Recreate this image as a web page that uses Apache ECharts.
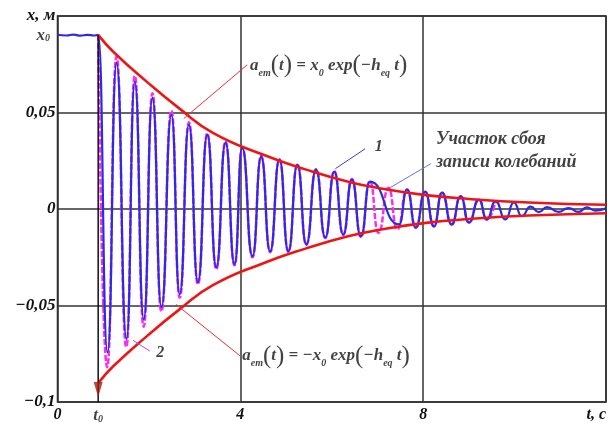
<!DOCTYPE html>
<html><head><meta charset="utf-8">
<script src="https://cdn.jsdelivr.net/npm/echarts@6/dist/echarts.min.js"></script>
<style>html,body{margin:0;padding:0;background:#fff}#c{width:609px;height:423px}</style>
</head><body><div id="c"></div>
<script>
// ---- data ----
const T0 = 0.89;      // t0, s
const X0 = 0.09;      // x0, m

// record 1 (blue): times (s) of the points and displacements (m)
const rec1T = [0, 0.2, 0.35, 0.5, 0.65, 0.8, 0.89,
  1.095, 1.292, 1.510, 1.691, 1.887, 2.077, 2.274, 2.492, 2.673, 2.876, 3.072, 3.277, 3.474, 3.677,
  3.873, 4.041, 4.266, 4.456, 4.652, 4.855, 5.051, 5.248, 5.444, 5.656, 5.859, 6.055, 6.251, 6.441,
  6.638, 6.834, 7.473, 7.648, 7.838, 8.041, 8.237, 8.412, 8.623, 8.820, 9.001, 9.219, 9.393, 9.583,
  9.801, 9.983, 10.157, 10.35, 10.53, 10.71, 10.96, 11.18, 11.40, 11.58, 11.76, 11.98];
const rec1X = [0.0903, 0.0899, 0.0904, 0.0898, 0.0902, 0.0899, 0.0902,
  -0.0742, 0.0757, -0.0674, 0.0659, -0.0571, 0.0576, -0.0509, 0.0488, -0.0442, 0.0437, -0.0380, 0.0385, -0.0302, 0.0344,
  -0.0287, 0.0318, -0.0245, 0.0271, -0.0220, 0.0256, -0.0220, 0.0230, -0.0183, 0.0204, -0.0147, 0.0194, -0.0132, 0.0152,
  -0.0142, 0.0142, -0.0080, 0.0101, -0.0096, 0.0090, -0.0090, 0.0085, -0.0080, 0.0066, -0.0070, 0.0049, -0.0054, 0.0040,
  -0.0054, 0.0034, -0.0037, 0.0012, -0.0016, 0.0010, -0.0015, 0.0005, -0.0015, 0.0008, -0.0008, 0.0002];

// record 2 (magenta)
const rec2T = [0.89, 1.085, 1.292, 1.505, 1.691, 1.885, 2.077, 2.272, 2.492, 2.673, 2.876, 3.072, 3.277, 3.474, 3.677,
  3.873, 4.041, 4.266, 4.456, 4.652, 4.855, 5.051, 5.248, 5.444, 5.656, 5.859, 6.055, 6.251, 6.441,
  6.638, 6.834, 7.022, 7.240, 7.436, 7.648, 7.838, 8.041, 8.237, 8.412, 8.623, 8.820, 9.001, 9.219, 9.393, 9.583];
const rec2X = [0.0902, -0.0820, 0.0790, -0.0715, 0.0690, -0.0610, 0.0600, -0.0530, 0.0510, -0.0460, 0.0450, -0.0390, 0.0392, -0.0312, 0.0350,
  -0.0292, 0.0320, -0.0250, 0.0275, -0.0224, 0.0258, -0.0222, 0.0232, -0.0186, 0.0206, -0.0150, 0.0196, -0.0135, 0.0155,
  -0.0145, 0.0145, -0.0123, 0.0110, -0.0106, 0.0101, -0.0096, 0.0090, -0.0090, 0.0085, -0.0080, 0.0066, -0.0070, 0.0049, -0.0054, 0.0040];

// envelopes a(t) = ±x0 exp(-h t)
const envT = [0.89, 1.22, 1.95, 2.67, 3.40, 4.49, 5.44, 6.38, 7.11, 8.06, 9.00, 10.31, 12.0];
const envUp = [0.0902, 0.0815, 0.0660, 0.0520, 0.0395, 0.0282, 0.0204, 0.0140, 0.0105, 0.0072, 0.0052, 0.0034, 0.0022];
const envLow = [-0.0902, -0.0815, -0.0660, -0.0520, -0.0395, -0.0282, -0.0204, -0.0140, -0.0105, -0.0072, -0.0052, -0.0034, -0.0022];

const xTickLabels = {0: '0', 4: '4', 8: '8', 12: 't, c'};
const yTickLabels = {'10': 'x, м', '5': '0,05', '0': '0', '-5': '−0,05', '-10': '−0,1'};

// annotations (data coordinates)
const noteUpper = [4.2, 0.0742];
const leadUpper = [[4.15, 0.0747], [2.76, 0.0468]];
const noteLower = [4.03, -0.0762];
const leadLower = [[4.0, -0.0762], [2.59, -0.0494]];
const note1 = [6.93, 0.0323];
const lead1 = [[6.73, 0.0312], [6.08, 0.0209]];
const note2 = [2.15, -0.0747];
const lead2 = [[2.02, -0.0736], [1.65, -0.068]];
const noteFail = [8.27, 0.0300];
const leadFail = [[8.17, 0.0235], [7.28, 0.0111]];

// ---- chart ----
const zip = (a, b) => a.map((v, i) => [v, b[i]]);
const SERIF = 'Liberation Serif';
const boldIt = {fontFamily: SERIF, fontStyle: 'italic', fontWeight: 'bold', color: '#111'};

const fRich = {
  a: {fontFamily: SERIF, fontStyle: 'italic', fontWeight: 'bold', fontSize: 17, color: '#111', verticalAlign: 'middle'},
  s: {fontFamily: SERIF, fontStyle: 'italic', fontWeight: 'bold', fontSize: 10, color: '#111', verticalAlign: 'bottom', lineHeight: 16},
  p: {fontFamily: SERIF, fontSize: 25, color: '#111', verticalAlign: 'middle'}
};

function textPoint(pt, label, z) {
  return {type: 'scatter', data: [pt], symbolSize: 1, itemStyle: {color: 'rgba(0,0,0,0)'},
    silent: true, z: z || 10, label: Object.assign({show: true}, label)};
}
function leader(pts, color) {
  return {type: 'line', data: pts, symbol: 'none', silent: true, z: 6,
    lineStyle: {color: color, width: 1}};
}

const chart = echarts.init(document.getElementById('c'));
chart.setOption({
  animation: false,
  backgroundColor: '#fff',
  grid: {left: 57.5, right: 2, top: 16, bottom: 20, show: true, borderColor: '#222', borderWidth: 1.5},
  xAxis: {type: 'value', min: 0, max: 12, interval: 4,
    axisLine: {show: false}, axisTick: {show: false},
    splitLine: {show: true, lineStyle: {color: '#333', width: 1.5}},
    axisLabel: Object.assign({fontSize: 16, margin: 5, alignMaxLabel: 'right',
      formatter: v => xTickLabels[Math.round(v)] || ''}, boldIt)},
  yAxis: {type: 'value', min: -0.1, max: 0.1, interval: 0.05,
    axisLine: {show: false}, axisTick: {show: false},
    splitLine: {show: true, lineStyle: {color: '#333', width: 1.5}},
    axisLabel: Object.assign({fontSize: 17, margin: 2,
      formatter: v => yTickLabels[String(Math.round(v * 100))] || ''}, boldIt)},
  series: [
    {type: 'line', name: '2', data: zip(rec2T, rec2X), symbol: 'none', smooth: 0.55, smoothMonotone: 'x',
      z: 2, lineStyle: {color: '#ff2cf0', width: 2.5, type: [6, 2]}},
    {type: 'line', name: '1', data: zip(rec1T, rec1X), symbol: 'none', smooth: 0.55, smoothMonotone: 'x',
      z: 3, lineStyle: {color: '#2b2be6', width: 2.2}},
    {type: 'line', data: zip(envT, envUp), symbol: 'none', smooth: 0.5, z: 4,
      lineStyle: {color: '#ee1515', width: 2.6}},
    {type: 'line', data: zip(envT, envLow), symbol: 'none', smooth: 0.5, z: 4,
      lineStyle: {color: '#ee1515', width: 2.6}},
    // t0 vertical line with arrow
    {type: 'line', data: [[T0, X0], [T0, -0.1]], symbol: 'none', silent: true, z: 5,
      lineStyle: {color: '#111', width: 1.5}},
    {type: 'scatter', data: [[T0, -0.0935]], symbol: 'triangle', symbolRotate: 180, symbolSize: [9, 15],
      silent: true, z: 6, itemStyle: {color: '#a31a10'}},
    leader(leadUpper, '#f03030'),
    leader(leadLower, '#f03030'),
    leader(lead1, '#3a3ae8'),
    leader(lead2, '#a050e8'),
    leader(leadFail, '#7070e0'),
    textPoint(noteUpper, {position: 'right', distance: 0,
      formatter: '{a|a}{s|em}{p|(}{a|t}{p|)}{a| = x}{s|0}{a| exp}{p|(}{a|−h}{s|eq}{a| t}{p|)}', rich: fRich}),
    textPoint(noteLower, {position: 'right', distance: 0,
      formatter: '{a|a}{s|em}{p|(}{a|t}{p|)}{a| = −x}{s|0}{a| exp}{p|(}{a|−h}{s|eq}{a| t}{p|)}', rich: fRich}),
    textPoint(note1, Object.assign({position: 'right', distance: 0, formatter: '1', fontSize: 16}, boldIt)),
    textPoint(note2, Object.assign({position: 'right', distance: 0, formatter: '2', fontSize: 16}, boldIt)),
    textPoint(noteFail, Object.assign({position: 'right', distance: 0, formatter: 'Участок сбоя\nзаписи колебаний',
      fontSize: 18, lineHeight: 23, align: 'left'}, boldIt)),
    textPoint([0, X0], {position: 'left', distance: 7, formatter: '{a|x}{s|0}',
      rich: {a: Object.assign({fontSize: 17}, boldIt), s: Object.assign({fontSize: 10, verticalAlign: 'bottom', lineHeight: 15}, boldIt)}}),
    textPoint([T0, -0.1], {position: 'bottom', distance: 5, formatter: '{a|t}{s|0}',
      rich: {a: Object.assign({fontSize: 17}, boldIt), s: Object.assign({fontSize: 10, verticalAlign: 'bottom', lineHeight: 15}, boldIt)}})
  ]
});
</script></body></html>
